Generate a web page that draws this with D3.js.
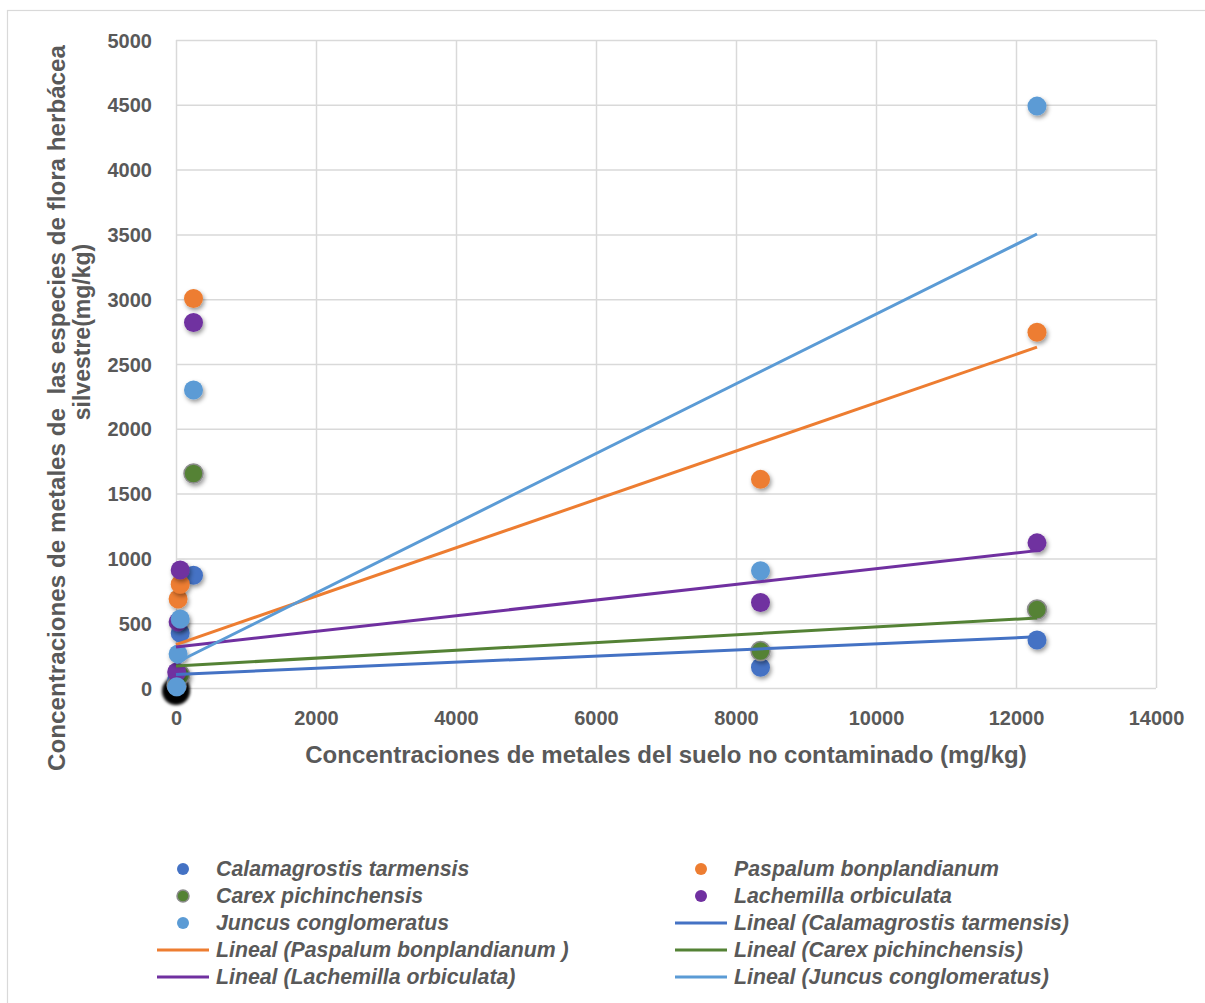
<!DOCTYPE html>
<html><head><meta charset="utf-8">
<script src="https://cdn.jsdelivr.net/npm/d3@7"></script>
<style>
body{margin:0;background:#fff;}
text{font-family:"Liberation Sans",Arial,sans-serif;font-weight:bold;fill:#595959;}
</style></head>
<body>
<svg id="chart" width="1205" height="1003"></svg>
<script>
// ---- data ----
const xTicks = [0,2000,4000,6000,8000,10000,12000,14000];
const yTicks = [0,500,1000,1500,2000,2500,3000,3500,4000,4500,5000];
const seriesNames = ["Calamagrostis tarmensis","Paspalum bonplandianum","Carex pichinchensis","Lachemilla orbiculata","Juncus conglomeratus"];
const trendNames = ["Lineal (Calamagrostis tarmensis)","Lineal (Paspalum bonplandianum )","Lineal (Carex pichinchensis)","Lineal (Lachemilla orbiculata)","Lineal (Juncus conglomeratus)"];
const seriesColors = ["#4472C4","#ED7D31","#548235","#7030A0","#5B9BD5"];
const calamagrostisX = [10, 60, 250, 8350, 12300];
const calamagrostisY = [60, 425, 870, 160, 370];
const paspalumX = [30, 60, 250, 8350, 12300];
const paspalumY = [687, 800, 3005, 1610, 2745];
const carexX = [10, 60, 250, 8350, 12300];
const carexY = [20, 100, 1655, 285, 605];
const lachemillaX = [10, 30, 60, 250, 8350, 12300];
const lachemillaY = [124, 510, 910, 2820, 660, 1120];
const juncusX = [10, 30, 60, 250, 8350, 12300];
const juncusY = [10, 262, 532, 2300, 905, 4490];
const originX = [0];
const originY = [0];
// trendline values read at x = trendX0 and x = trendX1
const trendX0 = 0, trendX1 = 12300;
const trendStart = [105, 335, 170, 316, 195];
const trendEnd   = [395, 2630, 540, 1060, 3503];

const seriesX = [calamagrostisX, paspalumX, carexX, lachemillaX, juncusX];
const seriesY = [calamagrostisY, paspalumY, carexY, lachemillaY, juncusY];

// ---- chart ----
const svg = d3.select("#chart");
const x = d3.scaleLinear().domain([0,14000]).range([176,1156]);
const y = d3.scaleLinear().domain([0,5000]).range([688,40]);

svg.append("rect").attr("x",7.5).attr("y",10.5).attr("width",1200).attr("height",1000)
  .attr("fill","#fff").attr("stroke","#d9d9d9").attr("stroke-width",1.2);

const defs = svg.append("defs");
const f = defs.append("filter").attr("id","sh").attr("x","-50%").attr("y","-50%").attr("width","200%").attr("height","200%");
f.append("feDropShadow").attr("dx",1.5).attr("dy",2.5).attr("stdDeviation",2).attr("flood-color","#000").attr("flood-opacity",0.4);
const fb = defs.append("filter").attr("id","blur").attr("x","-50%").attr("y","-50%").attr("width","200%").attr("height","200%");
fb.append("feGaussianBlur").attr("stdDeviation",1.8);

// gridlines
const gy = svg.append("g").attr("transform","translate(176,0)")
  .call(d3.axisLeft(y).tickValues(yTicks).tickSize(-(1156-176)).tickPadding(24).tickFormat(d3.format("d")));
gy.select(".domain").remove();
gy.selectAll(".tick line").attr("stroke","#d9d9d9").attr("stroke-width",1.5);
gy.selectAll(".tick text").style("font-size","20px").attr("fill","#595959").attr("dy","0.35em");

const gx = svg.append("g").attr("transform","translate(0,688)")
  .call(d3.axisBottom(x).tickValues(xTicks).tickSize(-(688-40)).tickPadding(23).tickFormat(d3.format("d")));
gx.select(".domain").remove();
gx.selectAll(".tick line").attr("stroke","#d9d9d9").attr("stroke-width",1.5);
gx.selectAll(".tick text").style("font-size","20px").attr("fill","#595959");

// origin blurred mark
svg.append("g").selectAll("circle").data(originX.map((d,i)=>[d,originY[i]])).join("circle")
  .attr("cx",d=>x(d[0])).attr("cy",d=>y(d[1])+3).attr("r",14).attr("fill","#000").attr("filter","url(#blur)");

// points
seriesNames.forEach((name,s)=>{
  const pts = seriesX[s].map((d,i)=>[d,seriesY[s][i]]);
  svg.append("g").selectAll("circle").data(pts).join("circle")
    .attr("cx",d=>x(d[0])).attr("cy",d=>y(d[1])).attr("r",9.5)
    .attr("fill",seriesColors[s])
    .attr("stroke", s===2 ? "#8c8c8c" : "none").attr("stroke-width",1.5)
    .attr("filter","url(#sh)");
});

// trendlines
const line = d3.line().x(d=>x(d[0])).y(d=>y(d[1]));
seriesNames.forEach((name,s)=>{
  svg.append("path").datum([[trendX0,trendStart[s]],[trendX1,trendEnd[s]]])
    .attr("d",line).attr("stroke",seriesColors[s]).attr("stroke-width",3).attr("fill","none");
});

// axis titles
svg.append("text").attr("x",666).attr("y",763).attr("text-anchor","middle").style("font-size","24px")
  .text("Concentraciones de metales del suelo no contaminado (mg/kg)");
svg.append("text").attr("transform","translate(65,408) rotate(-90)").attr("text-anchor","middle").style("font-size","24.2px")
  .style("white-space","pre")
  .text("Concentraciones de metales de  las especies de flora herbácea");
svg.append("text").attr("transform","translate(90,332) rotate(-90)").attr("text-anchor","middle").style("font-size","23px")
  .text("silvestre(mg/kg)");

// legend
const legendItems = [];
seriesNames.forEach((n,i)=>legendItems.push({label:n,type:"pt",i}));
trendNames.forEach((n,i)=>legendItems.push({label:n,type:"ln",i}));
const colX = [183, 701];
const rowY0 = 869, rowDy = 27;
const lg = svg.append("g");
legendItems.forEach((it,k)=>{
  const cx = colX[k%2], cy = rowY0 + Math.floor(k/2)*rowDy;
  if(it.type==="pt"){
    lg.append("circle").attr("cx",cx).attr("cy",cy).attr("r",6).attr("fill",seriesColors[it.i])
      .attr("stroke", it.i===2 ? "#8c8c8c" : "none").attr("stroke-width",1.5);
  } else {
    lg.append("line").attr("x1",cx-26).attr("x2",cx+26).attr("y1",cy).attr("y2",cy)
      .attr("stroke",seriesColors[it.i]).attr("stroke-width",3);
  }
  lg.append("text").attr("x",cx+33).attr("y",cy).attr("dy","0.35em").style("font-size","21.3px")
    .style("white-space","pre").style("font-style","italic").text(it.label);
});
</script>
</body></html>
